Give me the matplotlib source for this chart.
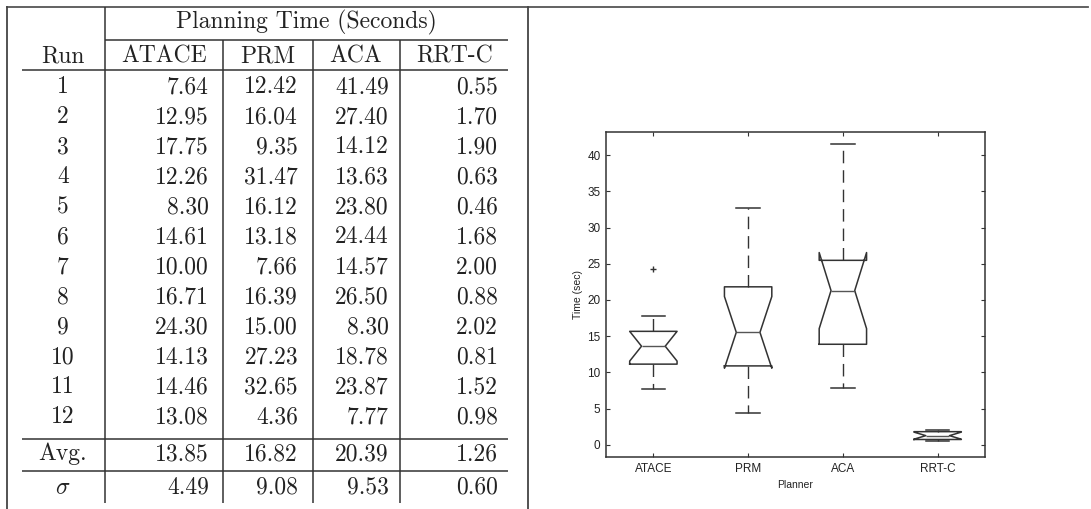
import numpy as np
import matplotlib
matplotlib.use("Agg")
import matplotlib.pyplot as plt

plt.rcParams["mathtext.fontset"] = "cm"

# Planning times (seconds) for each planner over 12 runs
planners = ["ATACE", "PRM", "ACA", "RRT-C"]
runs = [str(i) for i in range(1, 13)]
atace = [7.64, 12.95, 17.75, 12.26, 8.30, 14.61, 10.00, 16.71, 24.30, 14.13, 14.46, 13.08]
prm = [12.42, 16.04, 9.35, 31.47, 16.12, 13.18, 7.66, 16.39, 15.00, 27.23, 32.65, 4.36]
aca = [41.49, 27.40, 14.12, 13.63, 23.80, 24.44, 14.57, 26.50, 8.30, 18.78, 23.87, 7.77]
rrtc = [0.55, 1.70, 1.90, 0.63, 0.46, 1.68, 2.00, 0.88, 2.02, 0.81, 1.52, 0.98]
avg = [13.85, 16.82, 20.39, 1.26]
sigma = [4.49, 9.08, 9.53, 0.60]
y_ticks = [0, 5, 10, 15, 20, 25, 30, 35, 40]

W, H = 1091, 509
fig = plt.figure(figsize=(W / 100, H / 100), dpi=100)
fig.patch.set_facecolor("white")

# ---------- table, drawn in pixel coordinates ----------
tab = fig.add_axes([0, 0, 1, 1])
tab.set_xlim(0, W)
tab.set_ylim(H, 0)
tab.axis("off")

fs = 17
serif = dict(family="cmr10", fontsize=fs, color="#222222")
line_kw = dict(color="#333333", lw=1.1, solid_capstyle="butt")

# outer frame
tab.plot([7, 1088], [7, 7], color="#555555", lw=1.3)
tab.plot([7, 7], [7, 509], color="#444444", lw=1.3)
tab.plot([528, 528], [7, 509], color="#444444", lw=1.3)

# column separators
col_lines = [105, 223, 313, 400]
tab.plot([105, 105], [7, 503], **line_kw)
for x in col_lines[1:]:
    tab.plot([x, x], [40, 503], **line_kw)
table_right = 508

# horizontal rules
tab.plot([105, table_right], [40, 40], **line_kw)
tab.plot([22, table_right], [70, 70], **line_kw)
tab.plot([22, table_right], [439, 439], **line_kw)
tab.plot([22, table_right], [471, 471], **line_kw)

# headers
tab.text((105 + table_right) / 2, 22, "Planning Time (Seconds)", ha="center", va="center", **serif)
tab.text(63, 56, "Run", ha="center", va="center", **serif)
col_centers = [164, 268, 356, 455]
for cx, name in zip(col_centers, planners):
    tab.text(cx, 56, name, ha="center", va="center", **serif)

# data rows
series = [atace, prm, aca, rrtc]
right_edges = [209, 298, 389, 498]
row_y = [87 + i * 30.0 for i in range(12)]
for r, y in enumerate(row_y):
    tab.text(63, y, runs[r], ha="center", va="center", **serif)
    for c, vals in enumerate(series):
        tab.text(right_edges[c], y, f"{vals[r]:.2f}", ha="right", va="center", **serif)

tab.text(63, 454, "Avg.", ha="center", va="center", **serif)
tab.text(63, 487, r"$\sigma$", ha="center", va="center", fontsize=fs, color="#222222")
for c in range(4):
    tab.text(right_edges[c], 454, f"{avg[c]:.2f}", ha="right", va="center", **serif)
    tab.text(right_edges[c], 487, f"{sigma[c]:.2f}", ha="right", va="center", **serif)

# ---------- notched box plot ----------
def box_stats(values):
    v = np.asarray(values, dtype=float)
    q1, med, q3 = np.percentile(v, [25, 50, 75], method="hazen")
    iqr = q3 - q1
    hi_fence = q3 + 1.5 * iqr
    lo_fence = q1 - 1.5 * iqr
    inside = v[(v >= lo_fence) & (v <= hi_fence)]
    notch = 1.57 * iqr / np.sqrt(len(v))
    return dict(med=med, q1=q1, q3=q3,
                whislo=inside.min(), whishi=inside.max(),
                fliers=v[(v < lo_fence) | (v > hi_fence)],
                cilo=med - notch, cihi=med + notch)

stats = [box_stats(s) for s in series]

ax = fig.add_axes([606 / W, 1 - 457 / H, (985 - 606) / W, (457 - 132) / H])
ink = "#333333"
ax.bxp(stats, positions=[1, 2, 3, 4], widths=0.5, shownotches=True,
       boxprops=dict(color=ink, lw=1.1),
       medianprops=dict(color="#555555", lw=1.0),
       whiskerprops=dict(color=ink, lw=1.0, linestyle=(0, (9, 5))),
       capprops=dict(color=ink, lw=1.1),
       flierprops=dict(marker="+", markeredgecolor=ink, markersize=5, lw=0))

ax.set_xlim(0.5, 4.5)
ax.set_ylim(-1.7, 43.2)
ax.set_xticks([1, 2, 3, 4])
ax.set_xticklabels(planners)
ax.set_yticks(y_ticks)
sans = "Liberation Sans"
ax.tick_params(direction="in", length=3, width=0.8, color=ink,
               top=True, right=True, labelsize=8.5, labelcolor="#222222", pad=4)
for lab in ax.get_xticklabels() + ax.get_yticklabels():
    lab.set_family(sans)
for sp in ax.spines.values():
    sp.set_color("#333333")
    sp.set_linewidth(1.1)
ax.set_xlabel("Planner", family=sans, fontsize=7.5, color="#222222", labelpad=4)
ax.set_ylabel("Time (sec)", family=sans, fontsize=7.5, color="#222222", labelpad=3)

fig.savefig("out.png", dpi=100, facecolor="white")
